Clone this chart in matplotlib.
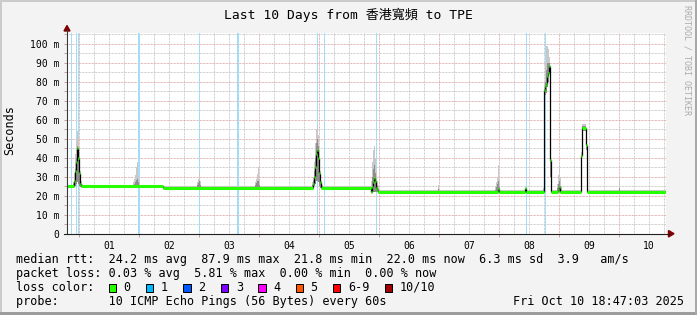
import numpy as np
import matplotlib
matplotlib.use('Agg')
import matplotlib.pyplot as plt
from matplotlib.patches import Rectangle, Polygon
from matplotlib.lines import Line2D

plt.rcParams['font.family'] = ['DejaVu Sans Mono', 'Noto Sans CJK TC']

# time axis in hours counted from Oct 01 00:00, graph ends Oct 10 18:47
t_start, t_end = -4.8, 234.78
day_labels = ['01', '02', '03', '04', '05', '06', '07', '08', '09', '10']

# median rtt (ms), step values beginning at med_t
med_t = [-4.8, -2.0, -1.6, -1.2, -0.8, -0.4, 0.0, 0.4, 0.8,
         33.6,
         93.6, 94.0, 94.4, 94.8, 95.2, 95.6, 96.0, 96.4, 96.8,
         116.8, 117.2, 117.6, 118.0, 118.4, 118.8, 119.2, 119.6,
         167.6, 168.0,
         178.4, 178.8,
         186.0, 186.4, 186.8, 187.2, 187.6, 188.0, 188.4, 188.8,
         191.6, 192.0, 192.4,
         200.8, 201.2, 202.6, 203.0]
med_v = [24.9, 27.5, 33.0, 38.0, 45.0, 40.0, 32.0, 26.0, 24.9,
         24.3,
         26.0, 30.0, 35.0, 42.0, 44.0, 40.0, 32.0, 27.0, 24.3,
         22.1, 24.5, 27.0, 29.5, 28.0, 24.0, 23.0, 22.1,
         23.5, 22.1,
         23.8, 22.1,
         75.6, 77.5, 79.0, 83.0, 84.5, 88.5, 38.8, 22.1,
         23.0, 24.5, 22.1,
         40.7, 55.8, 46.7, 22.1]

# smoke (spread of the 10 pings), step values beginning at smoke_t
smoke_t = [-4.8, -2.4, -2.0, -1.6, -1.2, -0.8, -0.4, 0.0, 0.4, 0.8, 1.2, 1.6,
           21.6, 22.0, 22.4, 22.8, 23.2, 23.6, 24.0, 24.4,
           33.6,
           47.2, 47.6, 48.0, 48.4, 48.8,
           70.4, 70.8, 71.2, 71.6, 72.0, 72.4,
           93.2, 93.6, 94.0, 94.4, 94.8, 95.2, 95.6, 96.0, 96.4, 96.8, 97.2, 97.6,
           116.8, 117.2, 117.6, 118.0, 118.4, 118.8, 119.2, 119.6, 120.0,
           143.6, 144.0,
           166.4, 166.8, 167.2, 167.6, 168.0, 168.4,
           185.6, 186.0, 186.4, 186.8, 187.2, 187.6, 188.0, 188.4, 188.8,
           191.2, 191.6, 192.0, 192.4, 192.8, 193.2,
           200.8, 201.2, 202.6, 203.0,
           216.0, 216.4]
smoke_lo = [24.6, 24.6, 24.6, 25.0, 26.0, 27.0, 26.0, 25.0, 24.6, 24.6, 24.6, 24.6,
            24.6, 24.6, 24.6, 24.6, 24.6, 24.6, 24.6, 24.6,
            24.0,
            24.0, 24.0, 24.0, 24.0, 24.0,
            24.0, 24.0, 24.0, 24.0, 24.0, 24.0,
            24.0, 24.0, 25.0, 26.0, 28.0, 28.0, 27.0, 25.0, 24.0, 24.0, 24.0, 24.0,
            21.8, 21.8, 22.0, 22.0, 22.0, 21.8, 21.8, 21.8, 21.8,
            21.8, 21.8,
            21.8, 21.8, 21.8, 21.8, 21.8, 21.8,
            21.8, 72.0, 73.0, 74.0, 77.0, 80.0, 84.0, 30.0, 21.8,
            21.8, 21.8, 21.8, 21.8, 21.8, 21.8,
            38.0, 54.0, 44.0, 21.8,
            21.8, 21.8]
smoke_mid = [25.2, 26.0, 28.0, 34.0, 40.0, 46.0, 42.0, 35.0, 28.0, 26.0, 25.5, 25.2,
             25.5, 26.0, 27.0, 28.5, 29.0, 27.0, 25.8, 25.2,
             24.6,
             25.5, 26.5, 27.5, 25.5, 24.6,
             25.5, 26.5, 27.5, 28.0, 25.5, 24.6,
             25.5, 27.5, 33.0, 40.0, 48.0, 50.0, 46.0, 37.0, 29.0, 26.0, 25.0, 24.6,
             24.5, 30.0, 34.0, 36.0, 32.0, 28.0, 25.0, 23.5, 22.4,
             23.5, 22.4,
             23.0, 24.5, 26.0, 28.0, 24.5, 22.4,
             23.0, 76.0, 80.0, 86.0, 90.0, 90.0, 90.0, 42.0, 22.4,
             24.0, 26.0, 28.0, 25.0, 23.0, 22.4,
             41.5, 56.5, 47.5, 22.4,
             24.0, 22.4]
smoke_hi = [25.6, 27.0, 32.0, 42.0, 50.0, 54.0, 51.0, 43.0, 33.0, 28.0, 26.2, 25.6,
            27.0, 29.0, 31.0, 35.0, 37.5, 31.0, 27.5, 25.6,
            25.0,
            27.0, 29.0, 32.0, 27.5, 25.0,
            27.0, 29.0, 31.5, 35.0, 28.5, 25.0,
            27.0, 30.0, 38.0, 48.0, 55.0, 56.0, 52.0, 42.0, 33.0, 28.0, 25.8, 25.0,
            28.0, 38.0, 44.0, 46.0, 40.0, 33.0, 28.0, 25.5, 22.9,
            25.6, 22.9,
            24.5, 27.0, 30.0, 36.0, 28.0, 22.9,
            24.0, 80.0, 90.0, 99.0, 99.0, 97.0, 93.0, 50.0, 22.9,
            26.0, 31.0, 36.0, 30.0, 25.0, 22.9,
            43.0, 57.5, 49.0, 22.9,
            28.8, 22.9]

# packet loss periods (start hour, duration hours)
loss_t = [-3.2, -1.2, -0.4, 23.6, 47.8, 63.2, 95.0, 98.0, 118.6, 178.8, 186.4]
loss_len = [0.4, 0.4, 0.4, 0.8, 0.4, 0.8, 0.4, 0.4, 0.4, 0.4, 0.4]

# legend values
rtt_stats = [24.2, 87.9, 21.8, 22.0, 6.3, 3.9]
loss_stats = [0.03, 5.81, 0.00, 0.00]
loss_labels = ['0', '1', '2', '3', '4', '5', '6-9', '10/10']
loss_colors = ['#26ff00', '#00b8ff', '#0059ff', '#7e00ff', '#ff00fe', '#ff5500', '#ff0000', '#a10000']

W, H = 697, 315
def fx(x): return x / W
def fy(y): return 1 - y / H

fig = plt.figure(figsize=(W / 100, H / 100), dpi=100)
fig.patch.set_facecolor('#f3f3f3')

ax = fig.add_axes([fx(67), fy(233.7), (666 - 67) / W, (233.7 - 33.3) / H])
ax.set_facecolor('white')
ax.set_xlim(t_start, t_end)
ax.set_ylim(0, 105.5)
for s in ax.spines.values():
    s.set_visible(False)

dots = (0, (0.72, 0.72))
for h in np.arange(6, t_end, 6):
    if h % 24:
        ax.axvline(h, color='#c0c0c0', lw=0.72, ls=dots, zorder=1)
for h in np.arange(0, t_end, 24):
    ax.axvline(h, color='#d99f9f', lw=0.72, ls=dots, zorder=1)
for v in np.arange(5, 106, 10):
    ax.axhline(v, color='#c0c0c0', lw=0.72, ls=dots, zorder=1)
for v in np.arange(10, 101, 10):
    ax.axhline(v, color='#d99f9f', lw=0.72, ls=dots, zorder=1)

for t, d in zip(loss_t, loss_len):
    ax.axvspan(t, t + d, color='#a3ddf7', lw=0, zorder=2)

st = smoke_t + [t_end]
ax.fill_between(st, smoke_lo + [smoke_lo[-1]], smoke_hi + [smoke_hi[-1]],
                step='post', color='#c8c8c8', lw=0, zorder=3)
ax.fill_between(st, smoke_lo + [smoke_lo[-1]], smoke_mid + [smoke_mid[-1]],
                step='post', color='#8e8e8e', lw=0, zorder=3)

# median: black risers between steps, loss-coloured flat parts
mt = med_t + [t_end]
ax.vlines(med_t[1:], med_v[:-1], med_v[1:], color='black', lw=0.9, zorder=4)
ax.hlines(med_v, med_t, mt[1:], color=loss_colors[0], lw=2.2, zorder=5)

ax.set_yticks(np.arange(0, 101, 10))
ax.set_yticklabels(['0'] + ['%d m' % v for v in range(10, 101, 10)])
ax.set_yticks(np.arange(5, 106, 10), minor=True)
ax.tick_params(axis='y', which='both', length=2.2, width=0.72, color='#c8a0a0',
               pad=3.4, labelsize=7)
ax.set_xticks(np.arange(12, 229, 24))
ax.set_xticklabels(day_labels)
ax.set_xticks(np.arange(0, 229, 24), minor=True)
ax.tick_params(axis='x', which='major', length=0, pad=5, labelsize=7)
ax.tick_params(axis='x', which='minor', length=2.2, width=0.72, color='#c8a0a0')

# axes lines and arrows
fig.add_artist(Line2D([fx(67), fx(67)], [fy(234), fy(30)], color='#3a3a3a', lw=0.8))
fig.add_artist(Line2D([fx(64), fx(669)], [fy(233.7), fy(233.7)], color='#1f1f1f', lw=0.8))
fig.add_artist(Polygon([[fx(64), fy(31)], [fx(70), fy(31)], [fx(67), fy(25.5)]],
                       closed=True, color='#7f0000', transform=fig.transFigure))
fig.add_artist(Polygon([[fx(668.5), fy(230.5)], [fx(668.5), fy(237)], [fx(674), fy(233.7)]],
                       closed=True, color='#7f0000', transform=fig.transFigure))

# frame shading
fig.add_artist(Rectangle((0, fy(2)), 1, 2 / H, color='#cbcbcb', lw=0, transform=fig.transFigure))
fig.add_artist(Rectangle((0, 0), 2 / W, 1, color='#cbcbcb', lw=0, transform=fig.transFigure))
fig.add_artist(Rectangle((0, 0), 1, 3 / H, color='#9c9c9c', lw=0, transform=fig.transFigure))
fig.add_artist(Rectangle((fx(695), 0), 2 / W, 1, color='#a8a8a8', lw=0, transform=fig.transFigure))

fig.text(fx(348), fy(19.3), 'Last 10 Days from 香港寬頻 to TPE', ha='center', va='baseline',
         fontsize=9.4)
fig.text(fx(10), fy(130), 'Seconds', rotation=90, ha='center', va='center', fontsize=8.5)
fig.text(fx(687.5), fy(5), 'RRDTOOL / TOBI OETIKER', rotation=270, ha='center', va='top',
         fontsize=6, color='#ababab')

fs = 8.5
row1 = 'median rtt:  %.1f ms avg  %.1f ms max  %.1f ms min  %.1f ms now  %.1f ms sd  %.1f   am/s' % tuple(rtt_stats)
row2 = 'packet loss: %.2f %% avg  %.2f %% max  %.2f %% min  %.2f %% now' % tuple(loss_stats)
fig.text(fx(16), fy(263.3), row1, va='baseline', fontsize=fs)
fig.text(fx(16), fy(277.3), row2, va='baseline', fontsize=fs)
fig.text(fx(16), fy(290.7), 'loss color:', va='baseline', fontsize=fs)
fig.text(fx(16), fy(305), 'probe:       10 ICMP Echo Pings (56 Bytes) every 60s', va='baseline', fontsize=fs)
fig.text(fx(513.3), fy(305), 'Fri Oct 10 18:47:03 2025', va='baseline', fontsize=fs)

bx = 108.5
for lab, col in zip(loss_labels, loss_colors):
    fig.add_artist(Rectangle((fx(bx), fy(291.8)), 7.5 / W, 7.5 / H, facecolor=col,
                             edgecolor='black', lw=0.72, transform=fig.transFigure))
    fig.text(fx(bx + 15), fy(290.7), lab, va='baseline', fontsize=fs)
    bx = bx + 15 + len(lab) * 7.1 + 15.3

fig.savefig('out.png', dpi=100, facecolor=fig.get_facecolor())
